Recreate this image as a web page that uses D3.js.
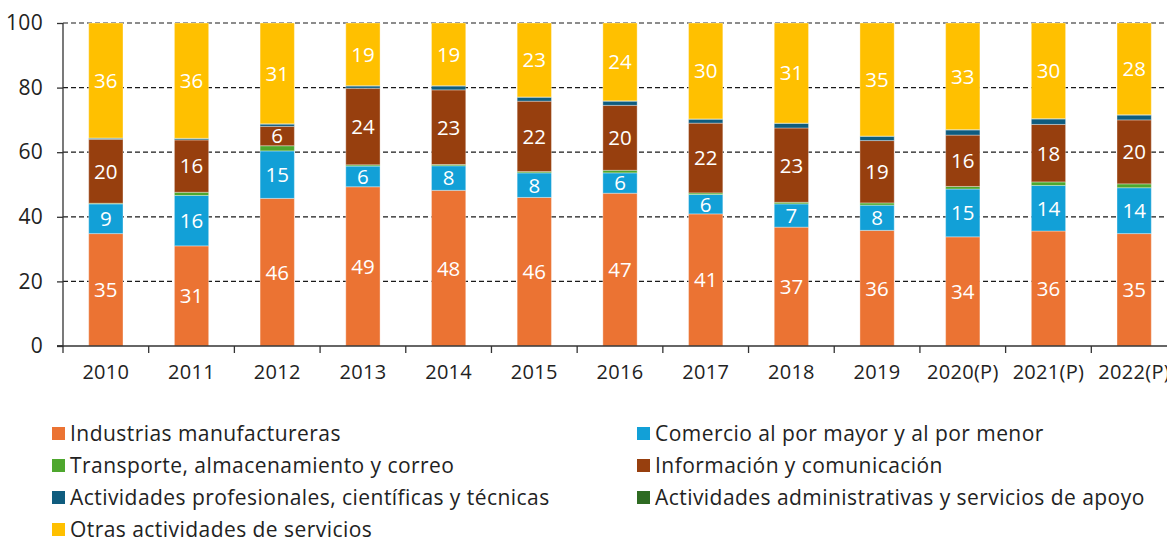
<!DOCTYPE html>
<html><head><meta charset="utf-8">
<script src="https://cdn.jsdelivr.net/npm/d3@7"></script>
<style>body{margin:0;background:#fff}svg{display:block;font-family:"Open Sans","Noto Sans",sans-serif}</style>
</head><body><svg id="c" width="1167" height="537"></svg>
<script>
const categories = ["2010","2011","2012","2013","2014","2015","2016","2017","2018","2019","2020(P)","2021(P)","2022(P)"];
const seriesNames = ["Industrias manufactureras","Comercio al por mayor y al por menor","Transporte, almacenamiento y correo","Información y comunicación","Actividades profesionales, científicas y técnicas","Actividades administrativas y servicios de apoyo","Otras actividades de servicios"];
const manufactureras = [34.8,31.0,45.7,49.3,48.2,46.0,47.3,40.9,36.8,35.8,33.8,35.6,34.8];
const comercio       = [9.2,15.6,14.7,6.4,7.6,7.6,6.3,6.0,7.2,7.8,14.8,14.1,14.2];
const transporte     = [0.2,1.0,1.6,0.4,0.4,0.4,0.8,0.5,0.5,0.7,0.8,1.1,1.2];
const informacion    = [19.8,16.2,6.0,23.7,23.1,21.8,20.1,21.6,23.0,19.3,15.9,17.8,19.8];
const profesionales  = [0.3,0.4,0.7,0.7,1.2,1.2,1.3,1.2,1.4,1.3,1.6,1.7,1.5];
const administrativas= [0.1,0.1,0.1,0.1,0.1,0.1,0.1,0.1,0.1,0.1,0.1,0.1,0.1];
const otras          = [35.6,35.7,31.2,19.4,19.4,22.9,24.1,29.7,31.0,35.0,33.0,29.6,28.4];
const yTicks = [0,20,40,60,80,100];
const colors = ["#EB7333","#12A0D7","#4EA72E","#973F0E","#0F5C7E","#2E6B22","#FFC000"];

const seriesValues = [manufactureras,comercio,transporte,informacion,profesionales,administrativas,otras];
const table = categories.map((c,i)=>{const o={cat:c};seriesNames.forEach((s,j)=>o[s]=seriesValues[j][i]);return o;});
const stack = d3.stack().keys(seriesNames)(table);

const FONT = '"Open Sans","Noto Sans",sans-serif';
const svg = d3.select("#c");
const x0 = 63, x1 = 1177, yTop = 23, yBot = 346;
const x = d3.scaleBand().domain(categories).range([x0,x1]).paddingInner(0.6).paddingOuter(0.3);
const y = d3.scaleLinear().domain([0,100]).range([yBot,yTop]);

// gridlines
svg.append("g").selectAll("line").data(yTicks.filter(t=>t>0)).join("line")
  .attr("x1",x0).attr("x2",1167).attr("y1",d=>y(d)).attr("y2",d=>y(d))
  .attr("stroke","#1a1a1a").attr("stroke-width",1.2).attr("stroke-dasharray","5,3");

// bars
const g = svg.append("g");
stack.forEach((layer,j)=>{
  g.append("g").selectAll("rect").data(layer).join("rect")
    .attr("x",d=>x(d.data.cat)).attr("width",x.bandwidth())
    .attr("y",d=>y(d[1])).attr("height",d=>Math.max(0,y(d[0])-y(d[1])))
    .attr("fill",colors[j]).attr("stroke","rgba(255,255,255,0.35)").attr("stroke-width",1);
});
// labels
stack.forEach((layer,j)=>{
  g.append("g").selectAll("text").data(layer.filter(d=>d[1]-d[0]>=4)).join("text")
    .attr("x",d=>x(d.data.cat)+x.bandwidth()/2).attr("y",d=>(y(d[0])+y(d[1]))/2)
    .attr("dy","0.36em").attr("text-anchor","middle").attr("fill","#fff")
    .attr("font-size",20.5).text(d=>Math.round(d[1]-d[0]));
});

// y axis
const ya = svg.append("g").attr("transform",`translate(${x0},0)`)
  .call(d3.axisLeft(y).tickValues(yTicks).tickSize(6).tickPadding(14));
ya.attr("font-family",FONT);
ya.select(".domain").attr("stroke","#333").attr("stroke-width",1.3).attr("d",`M-6,${yBot}H0V${yTop}`);
ya.selectAll(".tick line").attr("stroke","#333").attr("stroke-width",1.3);
ya.selectAll("text").attr("font-size",21).attr("fill","#222").attr("letter-spacing",0.3);

// x axis
const xa = svg.append("g").attr("transform",`translate(0,${yBot})`)
  .call(d3.axisBottom(x).tickSize(0).tickPadding(19));
xa.attr("font-family",FONT);
xa.select(".domain").attr("stroke","#333").attr("stroke-width",1.3).attr("d",`M${x0-6},0H1167`);
xa.selectAll("text").attr("font-size",20).attr("fill","#222").attr("letter-spacing",0.3);
const step = x.step();
svg.append("g").selectAll("line").data(d3.range(categories.length+1)).join("line")
  .attr("x1",i=>x0+i*step).attr("x2",i=>x0+i*step).attr("y1",yBot).attr("y2",yBot+7)
  .attr("stroke","#333").attr("stroke-width",1.3);

// legend
const lg = svg.append("g");
seriesNames.forEach((s,i)=>{
  const col = i%2, row = Math.floor(i/2);
  const lx = col===0 ? 52 : 637, ly = 433 + row*32;
  lg.append("rect").attr("x",lx).attr("y",ly-6).attr("width",13).attr("height",13).attr("fill",colors[i]);
  lg.append("text").attr("x",lx+18).attr("y",ly+1).attr("dy","0.35em").attr("font-size",21).attr("letter-spacing",0.45).attr("fill","#222").text(s);
});
</script></body></html>
